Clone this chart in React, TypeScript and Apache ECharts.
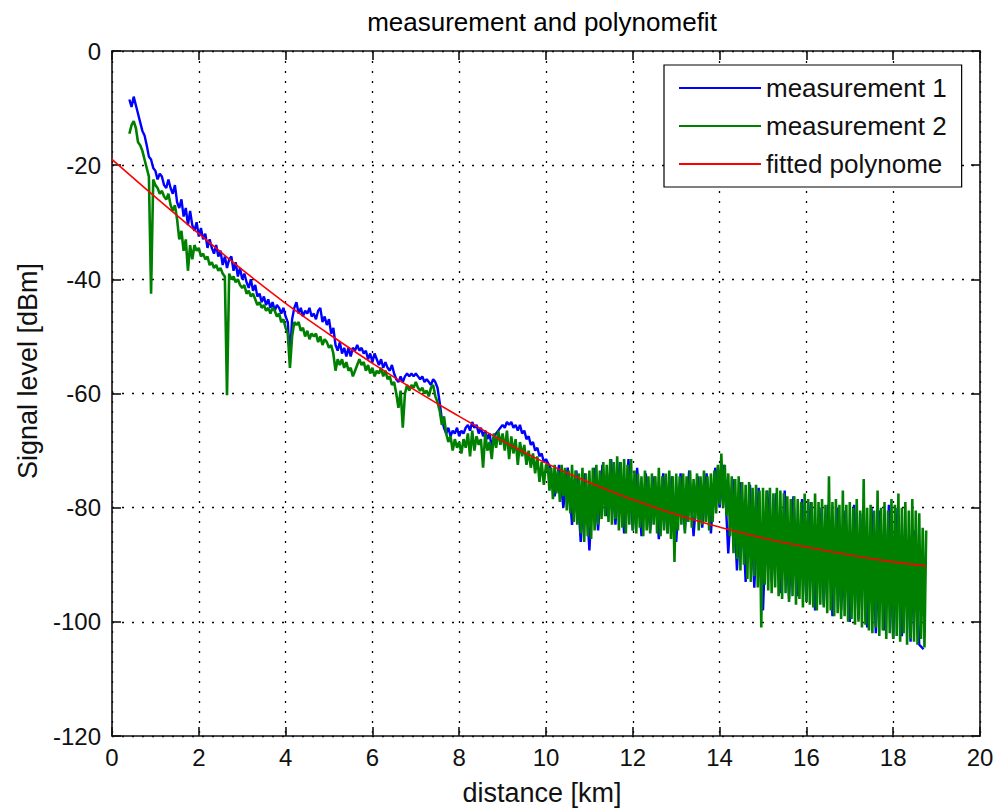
import React, { useEffect, useRef } from "react";
import * as echarts from "echarts";

// ---- data ----
// measurement 1, near part: 0.40 km .. 10.00 km, one sample every 0.05 km
const M1_NEAR_START_KM = 0.4;
const M1_NEAR_STEP_KM = 0.05;
const M1_NEAR_DBM = [
  -8.5, -9.8, -8.0, -9.5, -11.0, -12.5, -14.0, -14.8, -16.5, -18.5,
  -19.0, -20.5, -21.0, -22.5, -21.5, -22.0, -23.5, -24.0, -22.5, -24.0,
  -25.0, -23.5, -26.5, -27.5, -26.0, -29.0, -27.5, -30.5, -28.0, -30.5,
  -31.5, -30.0, -32.5, -31.0, -33.0, -32.0, -34.5, -33.0, -34.5, -35.5,
  -34.0, -36.0, -35.0, -37.5, -36.0, -38.0, -36.5, -36.0, -38.5, -37.0,
  -39.5, -38.0, -40.0, -39.0, -40.5, -41.5, -40.0, -42.0, -41.0, -43.0,
  -42.5, -44.0, -43.0, -44.5, -43.5, -45.0, -44.0, -45.5, -44.5, -45.0,
  -46.0, -45.0, -46.5, -47.5, -53.5, -47.0, -45.0, -44.0, -46.0, -45.0,
  -46.5, -45.5, -46.0, -45.0, -46.5, -46.0, -47.0, -45.5, -45.0, -47.5,
  -46.5, -48.0, -47.0, -49.5, -48.5, -51.5, -52.5, -51.0, -53.0, -52.0,
  -53.5, -52.0, -53.5, -52.0, -52.5, -51.5, -52.5, -52.0, -53.0, -52.5,
  -54.0, -53.0, -54.5, -53.0, -54.0, -55.0, -54.0, -55.5, -54.5, -55.5,
  -56.0, -55.0, -56.5, -57.5, -58.0, -57.0, -58.0, -57.0, -56.5, -57.0,
  -56.5, -57.0, -56.5, -57.0, -57.5, -57.0, -58.0, -57.5, -58.0, -58.5,
  -57.5, -58.0, -59.0, -61.5, -64.5, -66.0, -67.0, -66.0, -67.5, -66.5,
  -67.0, -66.0, -67.5, -66.5, -67.0, -66.0, -65.5, -66.5, -65.0, -66.0,
  -65.5, -67.0, -66.0, -67.5, -66.5, -68.0, -67.0, -69.5, -67.5, -67.0,
  -66.5, -66.0, -65.5, -66.0, -65.0, -65.5, -65.0, -66.0, -65.5, -66.5,
  -65.5, -67.0, -66.5, -68.0, -67.5, -69.0, -68.5, -70.0, -69.5, -71.0,
  -70.5, -72.0, -71.5,
];

// measurement 1, far (noisy) part: 10.1 km .. 18.7 km, every 0.1 km
const M1_FAR_START_KM = 10.1;
const M1_FAR_STEP_KM = 0.1;
const M1_FAR_DBM = [
  -73.0, -78.0, -72.5, -80.0, -73.0, -83.0, -73.5, -86.0, -74.0, -87.5,
  -73.0, -84.0, -72.5, -81.5, -71.5, -83.0, -72.0, -84.5, -71.5, -84.0,
  -73.0, -85.0, -74.0, -84.0, -74.5, -85.5, -74.0, -84.5, -74.5, -86.0,
  -74.0, -84.0, -73.5, -85.0, -74.5, -83.5, -74.0, -84.5, -73.0, -80.0,
  -72.5, -88.0, -75.0, -91.0, -75.5, -93.0, -76.0, -94.0, -76.5, -98.0,
  -77.0, -93.0, -77.5, -95.0, -77.0, -96.0, -78.0, -95.5, -78.5, -96.5,
  -79.0, -98.0, -80.0, -97.0, -79.5, -99.0, -80.0, -98.0, -80.5, -100.0,
  -79.5, -99.5, -81.0, -101.0, -80.0, -102.0, -80.5, -101.5, -79.5, -103.0,
  -80.0, -102.5, -86.0, -103.5, -84.0, -104.0, -104.8,
];

// measurement 2, near part: 0.40 km .. 10.00 km, every 0.05 km
const M2_NEAR_START_KM = 0.4;
const M2_NEAR_STEP_KM = 0.05;
const M2_NEAR_DBM = [
  -14.5, -13.0, -12.3, -13.5, -16.0, -16.5, -17.5, -19.0, -20.5, -22.0,
  -42.5, -22.5, -23.5, -24.0, -25.0, -24.5, -25.5, -26.0, -25.0, -27.0,
  -28.0, -27.0, -29.5, -33.0, -31.5, -35.0, -33.0, -38.5, -34.0, -36.5,
  -34.0, -35.0, -34.5, -36.0, -35.5, -36.5, -36.0, -37.5, -37.0, -38.0,
  -37.5, -38.5, -38.0, -39.0, -39.5, -60.3, -39.0, -40.0, -39.5, -40.5,
  -40.0, -41.0, -41.5, -41.0, -42.5, -42.0, -43.0, -42.5, -43.5, -44.5,
  -44.0, -45.0, -44.5, -45.5, -45.0, -46.0, -45.0, -45.5, -46.5, -46.0,
  -47.5, -47.0, -48.5, -49.5, -55.5, -50.0, -47.5, -48.0, -47.5, -49.0,
  -48.5, -50.0, -49.0, -50.5, -49.5, -50.0, -49.5, -51.0, -50.0, -51.5,
  -50.5, -51.0, -52.0, -51.5, -53.0, -56.0, -54.0, -55.0, -54.0, -55.5,
  -54.5, -56.0, -55.5, -57.0, -56.0, -55.0, -54.0, -55.0, -54.5, -56.0,
  -55.0, -56.5, -55.5, -57.0, -56.0, -56.5, -55.5, -57.0, -56.0, -57.5,
  -57.0, -58.5, -58.0, -60.0, -62.5, -59.5, -66.0, -60.0, -58.5, -59.5,
  -58.5, -59.0, -58.0, -59.0, -59.5, -59.0, -60.0, -59.5, -60.5, -59.0,
  -58.5, -60.5, -61.5, -63.0, -65.5, -64.0, -67.0, -68.5, -67.5, -70.0,
  -68.0, -69.5, -68.5, -70.5, -68.0, -69.5, -67.0, -71.0, -66.5, -70.0,
  -67.5, -69.0, -68.0, -73.0, -67.0, -70.0, -68.5, -71.5, -67.0, -69.5,
  -66.5, -69.0, -67.0, -70.0, -66.5, -71.5, -67.5, -70.5, -68.0, -72.5,
  -68.5, -71.0, -69.0, -72.5, -70.0, -73.0, -70.5, -74.0, -71.0, -75.5,
  -72.0, -76.0, -72.5,
];

// measurement 2, far (noisy) part: 10.04 km .. 18.76 km, every 0.04 km
const M2_FAR_START_KM = 10.04;
const M2_FAR_STEP_KM = 0.04;
const M2_FAR_DBM = [
  -72.5, -77.0, -73.0, -78.5, -72.5, -77.5, -73.5, -79.0, -72.5, -78.0,
  -73.0, -80.5, -73.5, -81.0, -72.5, -82.5, -73.5, -83.0, -74.0, -84.5,
  -73.0, -86.0, -74.0, -85.0, -73.5,
  -85.5, -73.0, -84.0, -72.5, -83.0, -73.5, -82.0, -72.0, -81.5, -72.5,
  -82.5, -71.5, -83.0, -72.0, -82.0, -71.0, -84.0, -72.0, -83.5, -71.5,
  -84.5, -72.5, -83.0, -71.5, -84.0,
  -73.5, -84.5, -74.0, -83.5, -74.5, -85.0, -73.5, -84.0, -74.5, -84.5,
  -74.0, -83.0, -74.5, -84.5, -73.0, -85.0, -74.5, -84.0, -74.0, -84.5,
  -73.5, -85.5, -74.5, -89.5, -74.0,
  -84.0, -74.5, -83.0, -74.0, -84.5, -74.5, -82.5, -73.5, -83.5, -75.0,
  -82.0, -74.0, -84.0, -74.5, -83.0, -73.5, -82.5, -74.5, -84.0, -74.0,
  -82.5, -73.5, -81.0, -72.5, -79.5,
  -70.5, -80.0, -72.5, -81.5, -74.0, -85.0, -74.5, -88.0, -75.0, -89.0,
  -74.5, -91.0, -75.5, -90.0, -76.0, -92.5, -75.5, -93.0, -76.5, -92.0,
  -76.0, -94.0, -77.0, -101.0, -76.5,
  -93.5, -77.0, -94.5, -76.5, -95.0, -77.5, -94.0, -76.5, -95.5, -77.0,
  -96.0, -77.5, -95.0, -78.0, -96.5, -78.5, -95.5, -78.0, -97.0, -78.5,
  -96.0, -79.0, -97.5, -77.5, -96.5,
  -78.5, -97.0, -79.0, -97.5, -77.5, -98.0, -79.0, -97.0, -78.5, -97.5,
  -79.5, -98.5, -74.5, -98.0, -79.0, -99.0, -78.5, -98.5, -79.5, -99.5,
  -77.0, -99.0, -79.5, -100.0, -79.0,
  -99.5, -80.0, -100.5, -78.5, -100.0, -80.5, -101.0, -75.0, -100.5, -80.0,
  -101.5, -79.5, -102.0, -80.5, -101.0, -77.0, -102.5, -80.0, -101.5, -79.0,
  -103.0, -80.5, -102.0, -78.5, -103.0,
  -79.5, -102.5, -77.5, -103.5, -80.0, -102.0, -79.0, -104.0, -80.5, -103.0,
  -78.5, -103.5, -80.5, -104.0, -81.0, -103.0, -83.5, -104.5, -84.0,
];

// fitted polynome
const FIT_KM = [0, 1, 2, 3, 4, 5, 6, 7, 8, 9, 10, 11, 12, 13, 14, 15, 16, 17, 18, 18.75];
const FIT_DBM = [
  -19.0, -25.6, -32.0, -38.3, -44.2, -49.6, -54.7, -59.5, -64.0, -68.3,
  -72.2, -75.6, -78.6, -81.2, -83.4, -85.3, -86.9, -88.3, -89.5, -90.2,
];

const X_TICKS = { min: 0, max: 20, interval: 2 };
const Y_TICKS = { min: -120, max: 0, interval: 20 };

const TITLE = "measurement and polynomefit";
const X_NAME = "distance [km]";
const Y_NAME = "Signal level [dBm]";
const NAMES = ["measurement 1", "measurement 2", "fitted polynome"];

function samples(startKm: number, stepKm: number, values: number[]) {
  return values.map((v, i) => [Number((startKm + i * stepKm).toFixed(3)), v]);
}

const FONT = "'Liberation Sans', Arial, Helvetica, sans-serif";

export default function App() {
  const ref = useRef<HTMLDivElement>(null);

  useEffect(() => {
    if (!ref.current) return;
    const chart = echarts.init(ref.current, undefined, { renderer: "svg" });

    const m1 = [
      ...samples(M1_NEAR_START_KM, M1_NEAR_STEP_KM, M1_NEAR_DBM),
      ...samples(M1_FAR_START_KM, M1_FAR_STEP_KM, M1_FAR_DBM),
    ];
    const m2 = [
      ...samples(M2_NEAR_START_KM, M2_NEAR_STEP_KM, M2_NEAR_DBM),
      ...samples(M2_FAR_START_KM, M2_FAR_STEP_KM, M2_FAR_DBM),
    ];
    const fit = FIT_KM.map((x, i) => [x, FIT_DBM[i]]);

    const axisLine = { show: true, onZero: false, lineStyle: { color: "#111", width: 1.6 } };
    const axisTick = { show: true, inside: true, length: 9, lineStyle: { color: "#111", width: 1.6 } };
    const grid = { show: true, lineStyle: { color: "#000", width: 1.3, type: [2, 8] as any } };
    const label = { color: "#111", fontSize: 24, fontFamily: FONT };

    chart.setOption({
      animation: false,
      backgroundColor: "#fff",
      title: {
        text: TITLE,
        left: 537,
        top: 4,
        textAlign: "center",
        textStyle: { fontFamily: FONT, fontSize: 26, fontWeight: "normal", color: "#000" },
      },
      legend: {
        data: NAMES,
        orient: "vertical",
        left: 664,
        top: 65,
        padding: [9, 15, 9, 15],
        icon: "rect",
        itemWidth: 82,
        itemHeight: 2,
        itemGap: 10,
        selectedMode: false,
        backgroundColor: "#fff",
        borderColor: "#000",
        borderWidth: 1.2,
        borderRadius: 0,
        textStyle: { fontFamily: FONT, fontSize: 26, color: "#111", lineHeight: 28 },
      },
      grid: { left: 112, right: 17, top: 51, bottom: 74, containLabel: false, outerBoundsMode: "none" },
      graphic: [
        {
          type: "text",
          x: 28,
          y: 371,
          rotation: Math.PI / 2,
          silent: true,
          style: {
            text: Y_NAME,
            fill: "#111",
            font: `27px ${FONT}`,
            textAlign: "center",
            textVerticalAlign: "middle",
          },
        },
      ],
      xAxis: [
        {
          type: "value",
          ...X_TICKS,
          position: "bottom",
          name: X_NAME,
          nameLocation: "middle",
          nameGap: 43,
          nameTextStyle: { color: "#111", fontSize: 27, fontFamily: FONT, padding: [0, 8, 0, 0] },
          axisLine,
          axisTick,
          axisLabel: { ...label, margin: 9 },
          splitLine: grid,
        },
        {
          type: "value",
          ...X_TICKS,
          position: "top",
          axisLine,
          axisTick,
          axisLabel: { show: false },
          splitLine: { show: false },
        },
      ],
      yAxis: [
        {
          type: "value",
          ...Y_TICKS,
          position: "left",
          axisLine,
          axisTick,
          axisLabel: { ...label, margin: 11 },
          splitLine: grid,
        },
        {
          type: "value",
          ...Y_TICKS,
          position: "right",
          axisLine,
          axisTick,
          axisLabel: { show: false },
          splitLine: { show: false },
        },
      ],
      series: [
        {
          name: NAMES[0],
          type: "line",
          xAxisIndex: 0,
          yAxisIndex: 0,
          symbol: "none",
          data: m1,
          lineStyle: { color: "#0000ff", width: 2.4 },
          itemStyle: { color: "#0000ff" },
        },
        {
          name: NAMES[1],
          type: "line",
          xAxisIndex: 0,
          yAxisIndex: 0,
          symbol: "none",
          data: m2,
          lineStyle: { color: "#008000", width: 2.6 },
          itemStyle: { color: "#008000" },
        },
        {
          name: NAMES[2],
          type: "line",
          xAxisIndex: 0,
          yAxisIndex: 0,
          symbol: "none",
          smooth: true,
          data: fit,
          lineStyle: { color: "#ff0000", width: 1.6 },
          itemStyle: { color: "#ff0000" },
        },
      ],
    });

    return () => chart.dispose();
  }, []);

  return (
    <div
      ref={ref}
      style={{ position: "fixed", left: 0, top: 0, width: 997, height: 810, background: "#fff" }}
    />
  );
}
